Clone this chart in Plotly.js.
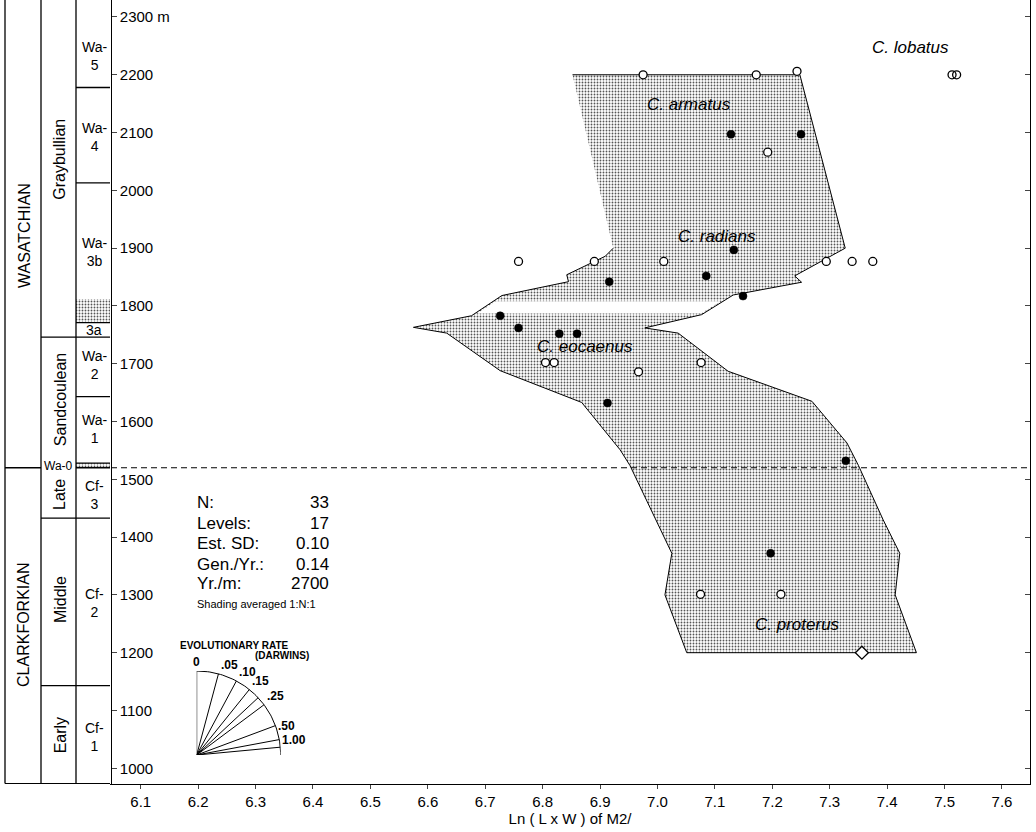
<!DOCTYPE html>
<html><head><meta charset="utf-8">
<script src="https://cdn.plot.ly/plotly-3.0.1.min.js"></script>
<style>html,body{margin:0;padding:0;background:#fff}</style>
</head><body><div id="chart" style="width:1036px;height:832px"></div>
<script>
// ---- data ----
const polyX = [6.852, 7.248, 7.327, 7.239, 7.251, 7.132, 7.077, 6.978, 7.036, 7.123, 7.269, 7.330, 7.350, 7.393, 7.422, 7.414, 7.451, 7.051, 7.013, 7.025, 6.952, 6.935, 6.868, 6.726, 6.633, 6.575, 6.676, 6.729, 6.845, 6.842, 6.909, 6.923];
const polyY = [2200, 2200, 1900, 1852, 1841, 1819, 1785, 1762, 1753, 1687, 1635, 1563, 1524, 1430, 1372, 1300, 1200, 1200, 1300, 1372, 1524, 1551, 1633, 1688, 1753, 1763, 1783, 1818, 1842, 1854, 1886, 1900];
const gapX = [6.718, 7.110, 7.076, 6.686];
const gapY = [1808, 1808, 1787, 1787];
const filledX = [7.128, 7.250, 7.133, 7.085, 6.916, 7.149, 6.726, 6.758, 6.829, 6.860, 6.913, 7.328, 7.197];
const filledY = [2097, 2097, 1897, 1852, 1842, 1817, 1783, 1762, 1752, 1752, 1632, 1532, 1372];
const openX = [6.975, 7.172, 7.243, 7.192, 6.758, 6.890, 7.011, 7.294, 7.339, 7.375, 6.805, 6.820, 6.967, 7.076, 7.075, 7.215];
const openY = [2200, 2200, 2206, 2066, 1877, 1877, 1877, 1877, 1877, 1877, 1702, 1702, 1686, 1702, 1301, 1301];
const lobatusX = [7.513, 7.521];
const lobatusY = [2200, 2200];
const diamondX = [7.356];
const diamondY = [1200];
const speciesNames = ['C. lobatus', 'C. armatus', 'C. radians', 'C. eocaenus', 'C. proterus'];
const speciesX = [7.44, 7.055, 7.103, 6.874, 7.243];
const speciesY = [2247, 2148, 1920, 1730, 1249];
const boundaryLevel = 1520;
const yTickVals = [1000, 1100, 1200, 1300, 1400, 1500, 1600, 1700, 1800, 1900, 2000, 2100, 2200, 2300];
const yTickText = ['1000', '1100', '1200', '1300', '1400', '1500', '1600', '1700', '1800', '1900', '2000', '2100', '2200', '2300 m'];
const xTickVals = [6.1, 6.2, 6.3, 6.4, 6.5, 6.6, 6.7, 6.8, 6.9, 7.0, 7.1, 7.2, 7.3, 7.4, 7.5, 7.6];
const xTickText = ['6.1', '6.2', '6.3', '6.4', '6.5', '6.6', '6.7', '6.8', '6.9', '7.0', '7.1', '7.2', '7.3', '7.4', '7.5', '7.6'];
const statLabels = ['N:', 'Levels:', 'Est. SD:', 'Gen./Yr.:', 'Yr./m:'];
const statValues = ['33', '17', '0.10', '0.14', '2700'];
const shadingNote = 'Shading averaged 1:N:1';
const rates = [0, 0.05, 0.10, 0.15, 0.20, 0.25, 0.50, 1.00, 2.00];
const rateLabels = ['0', '.05', '.10', '.15', '', '.25', '.50', '1.00', ''];
// stratigraphic column
const ageNames = ['WASATCHIAN', 'CLARKFORKIAN'];
const ageLabelY = [1921, 1248];
const subageNames = ['Graybullian', 'Sandcoulean', 'Late', 'Middle', 'Early'];
const subageLabelY = [2053, 1637, 1473, 1291, 1057];
const zoneNames = ['Wa-<br>5', 'Wa-<br>4', 'Wa-<br>3b', '3a', 'Wa-<br>2', 'Wa-<br>1', 'Cf-<br>3', 'Cf-<br>2', 'Cf-<br>1'];
const zoneLabelY = [2233, 2093, 1894, 1759, 1698, 1587, 1473, 1286, 1054];
const zoneBounds = [2178, 2013, 1771, 1746, 1643, 1528, 1520, 1433, 1143];
const subageBounds = [1746, 1433, 1143];
const ageBounds = [1520];
const hiatusTop = 1812, hiatusBase = 1771;
const wa0Top = 1528, wa0Base = 1520;

// ---- layout helpers ----
const W = 1036, H = 832;
const px = v => v / W;
const py = v => (H - v) / H;
const FONT = 'Liberation Sans, Arial, Helvetica, sans-serif';
const yRange = [972.8, 2329.4];
const xRange = [6.0465, 7.6488];

const stip = {shape: '.', size: 3, solidity: 0.3, fgcolor: '#555', bgcolor: '#fff', fillmode: 'replace'};

const traces = [];
traces.push({x: polyX, y: polyY, mode: 'lines', fill: 'toself', fillpattern: stip,
  line: {color: '#000', width: 1}, hoverinfo: 'skip', xaxis: 'x', yaxis: 'y'});
traces.push({x: gapX, y: gapY, mode: 'none', fill: 'toself', fillcolor: '#fff', hoverinfo: 'skip'});
traces.push({x: openX, y: openY, mode: 'markers', marker: {symbol: 'circle', size: 8, color: '#fff', line: {color: '#000', width: 1.3}}});
traces.push({x: lobatusX, y: lobatusY, mode: 'markers', marker: {symbol: 'circle', size: 8, color: 'rgba(255,255,255,0)', line: {color: '#000', width: 1.3}}});
traces.push({x: filledX, y: filledY, mode: 'markers', marker: {symbol: 'circle', size: 8, color: '#000', line: {color: '#000', width: 0.5}}});
traces.push({x: diamondX, y: diamondY, mode: 'markers', marker: {symbol: 'diamond', size: 10, color: '#fff', line: {color: '#000', width: 1.3}}});
// right-hand mirrored tick axis (dummy invisible trace keeps it alive)
traces.push({x: [null], y: [null], xaxis: 'x', yaxis: 'y4', mode: 'markers', hoverinfo: 'skip'});

// column stipple boxes (x3 in pixel-like units)
const c1 = 5, c2 = 41, c3 = 76, c4 = 110;
traces.push({x: [c3, c4, c4, c3], y: [hiatusTop, hiatusTop, hiatusBase, hiatusBase], mode: 'none', fill: 'toself', fillpattern: stip, xaxis: 'x3', yaxis: 'y', hoverinfo: 'skip'});
traces.push({x: [c3, c4, c4, c3], y: [wa0Top, wa0Top, wa0Base, wa0Base], mode: 'none', fill: 'toself', fillpattern: stip, xaxis: 'x3', yaxis: 'y', hoverinfo: 'skip'});

// rate fan (x2/y2 unit quadrant)
const K = 5.36;
rates.forEach(r => {
  const t = Math.atan(K * r);
  traces.push({x: [0, Math.sin(t)], y: [0, Math.cos(t)], mode: 'lines', line: {color: '#000', width: 1}, xaxis: 'x2', yaxis: 'y2', hoverinfo: 'skip'});
});
const arcX = [], arcY = [];
for (let i = 0; i <= 60; i++) { const a = i / 60 * Math.PI / 2; arcX.push(Math.sin(a)); arcY.push(Math.cos(a)); }
traces.push({x: arcX, y: arcY, mode: 'lines', line: {color: '#000', width: 1}, xaxis: 'x2', yaxis: 'y2', hoverinfo: 'skip'});

const shapes = [];
const L = (xa, xb, y) => ({type: 'line', xref: 'x3', yref: 'y', x0: xa, x1: xb, y0: y, y1: y, line: {color: '#000', width: 1.3}});
[c1, c2, c3].forEach(c => shapes.push({type: 'line', xref: 'x3', yref: 'y', x0: c, x1: c, y0: 973.6, y1: 2340, line: {color: '#000', width: 1.3}}));
shapes.push(L(c1, c4, 973.6));
zoneBounds.forEach(b => shapes.push(L(c3, c4, b)));
subageBounds.forEach(b => shapes.push(L(c2, c3, b)));
ageBounds.forEach(b => shapes.push(L(c1, c2, b)));
shapes.push({type: 'line', xref: 'paper', yref: 'y', x0: px(111), x1: px(1030), y0: boundaryLevel, y1: boundaryLevel, line: {color: '#000', width: 1, dash: '6px,4px'}});

const ann = [];
ageNames.forEach((n, i) => ann.push({xref: 'x3', yref: 'y', x: 24, y: ageLabelY[i], text: n, textangle: -90, showarrow: false, font: {family: FONT, size: 16, color: '#000'}}));
subageNames.forEach((n, i) => ann.push({xref: 'x3', yref: 'y', x: 60, y: subageLabelY[i], text: n, textangle: -90, showarrow: false, font: {family: FONT, size: 16, color: '#000'}}));
zoneNames.forEach((n, i) => ann.push({xref: 'x3', yref: 'y', x: 94, y: zoneLabelY[i], text: n, showarrow: false, font: {family: FONT, size: 14, color: '#000'}}));
ann.push({xref: 'x3', yref: 'y', x: 58, y: 1523, text: 'Wa-0', showarrow: false, font: {family: FONT, size: 12, color: '#000'}, bgcolor: '#fff', borderpad: 0});
speciesNames.forEach((n, i) => ann.push({xref: 'x', yref: 'y', x: speciesX[i], y: speciesY[i], text: '<i>' + n + '</i>', showarrow: false, font: {family: FONT, size: 17, color: '#000'}}));
const rowY = [502.7, 523.3, 543.6, 564, 583.6];
statLabels.forEach((s, i) => {
  ann.push({xref: 'paper', yref: 'paper', x: px(195), y: py(rowY[i]), xanchor: 'left', yanchor: 'middle', text: s, showarrow: false, font: {family: FONT, size: 17, color: '#000'}});
  ann.push({xref: 'paper', yref: 'paper', x: px(331), y: py(rowY[i]), xanchor: 'right', yanchor: 'middle', text: statValues[i], showarrow: false, font: {family: FONT, size: 17, color: '#000'}});
});
ann.push({xref: 'paper', yref: 'paper', x: px(195), y: py(603.5), xanchor: 'left', yanchor: 'middle', text: shadingNote, showarrow: false, font: {family: FONT, size: 11, color: '#000'}});
ann.push({xref: 'paper', yref: 'paper', x: px(178), y: py(645), xanchor: 'left', yanchor: 'middle', text: '<b>EVOLUTIONARY RATE</b>', showarrow: false, font: {family: FONT, size: 10, color: '#000'}});
ann.push({xref: 'paper', yref: 'paper', x: px(311), y: py(655), xanchor: 'right', yanchor: 'middle', text: '<b>(DARWINS)</b>', showarrow: false, font: {family: FONT, size: 10, color: '#000'}});
rates.forEach((r, i) => {
  if (!rateLabels[i]) return;
  const t = Math.atan(K * r);
  const low = t > 1.1;
  ann.push({xref: 'x2', yref: 'y2', x: Math.sin(t), y: Math.cos(t), text: '<b>' + rateLabels[i] + '</b>', showarrow: false,
    xanchor: i === 0 ? 'center' : 'left', yanchor: low ? 'middle' : 'bottom', xshift: i === 0 ? 0 : 1,
    font: {family: FONT, size: 12, color: '#000'}});
});

const yCommon = {range: yRange, tickvals: yTickVals, showgrid: false, zeroline: false, automargin: false,
  showline: true, linecolor: '#000', linewidth: 1.3, tickwidth: 1, ticklen: 5, fixedrange: true};
const layout = {
  width: W, height: H, margin: {l: 0, r: 0, t: 0, b: 0, pad: 0},
  paper_bgcolor: '#fff', plot_bgcolor: 'rgba(0,0,0,0)', showlegend: false,
  font: {family: FONT, color: '#000'},
  xaxis: {domain: [px(110), px(1030)], range: xRange, tickvals: xTickVals, ticktext: xTickText, anchor: 'y',
    ticks: 'outside', ticklen: 4, tickwidth: 1, showline: true, linecolor: '#000', linewidth: 1.3,
    showgrid: false, zeroline: false, automargin: false, tickfont: {family: FONT, size: 15},
    title: {text: 'Ln ( L x W ) of M2/', font: {family: FONT, size: 15}, standoff: 4}},
  yaxis: Object.assign({}, yCommon, {domain: [py(784), 1], anchor: 'free', position: px(110.5), side: 'right',
    ticktext: yTickText, ticks: 'outside', tickfont: {family: FONT, size: 15}}),
  yaxis4: Object.assign({}, yCommon, {domain: [py(784), 1], anchor: 'x', overlaying: 'y', side: 'right',
    ticks: 'inside', showticklabels: false}),
  xaxis2: {domain: [px(196.7), px(280.7)], range: [0, 1], anchor: 'y2', visible: false, fixedrange: true},
  yaxis2: {domain: [py(755), py(671)], range: [0, 1], anchor: 'x2', visible: false, fixedrange: true},
  xaxis3: {domain: [0, px(111)], range: [0, 111], anchor: 'y', visible: false, fixedrange: true},
  shapes: shapes, annotations: ann
};
Plotly.newPlot('chart', traces, layout, {staticPlot: true});
</script></body></html>
